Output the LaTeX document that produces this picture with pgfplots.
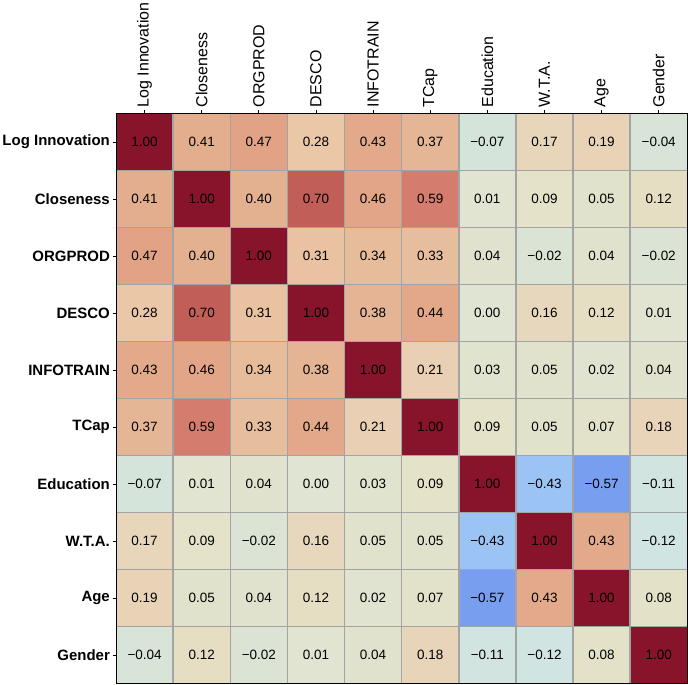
\documentclass[border=0pt]{standalone}
\usepackage{fontspec}
\setmainfont{Liberation Sans}
\usepackage{pgfplots}
\usepackage{pgfplotstable}
\pgfplotsset{compat=1.18}
\pgfplotstableread{
x y c t
0 0 1.00 1.00
1 0 0.41 0.41
2 0 0.47 0.47
3 0 0.28 0.28
4 0 0.43 0.43
5 0 0.37 0.37
6 0 -0.07 −0.07
7 0 0.17 0.17
8 0 0.19 0.19
9 0 -0.04 −0.04
0 1 0.41 0.41
1 1 1.00 1.00
2 1 0.40 0.40
3 1 0.70 0.70
4 1 0.46 0.46
5 1 0.59 0.59
6 1 0.01 0.01
7 1 0.09 0.09
8 1 0.05 0.05
9 1 0.12 0.12
0 2 0.47 0.47
1 2 0.40 0.40
2 2 1.00 1.00
3 2 0.31 0.31
4 2 0.34 0.34
5 2 0.33 0.33
6 2 0.04 0.04
7 2 -0.02 −0.02
8 2 0.04 0.04
9 2 -0.02 −0.02
0 3 0.28 0.28
1 3 0.70 0.70
2 3 0.31 0.31
3 3 1.00 1.00
4 3 0.38 0.38
5 3 0.44 0.44
6 3 0.00 0.00
7 3 0.16 0.16
8 3 0.12 0.12
9 3 0.01 0.01
0 4 0.43 0.43
1 4 0.46 0.46
2 4 0.34 0.34
3 4 0.38 0.38
4 4 1.00 1.00
5 4 0.21 0.21
6 4 0.03 0.03
7 4 0.05 0.05
8 4 0.02 0.02
9 4 0.04 0.04
0 5 0.37 0.37
1 5 0.59 0.59
2 5 0.33 0.33
3 5 0.44 0.44
4 5 0.21 0.21
5 5 1.00 1.00
6 5 0.09 0.09
7 5 0.05 0.05
8 5 0.07 0.07
9 5 0.18 0.18
0 6 -0.07 −0.07
1 6 0.01 0.01
2 6 0.04 0.04
3 6 0.00 0.00
4 6 0.03 0.03
5 6 0.09 0.09
6 6 1.00 1.00
7 6 -0.43 −0.43
8 6 -0.57 −0.57
9 6 -0.11 −0.11
0 7 0.17 0.17
1 7 0.09 0.09
2 7 -0.02 −0.02
3 7 0.16 0.16
4 7 0.05 0.05
5 7 0.05 0.05
6 7 -0.43 −0.43
7 7 1.00 1.00
8 7 0.43 0.43
9 7 -0.12 −0.12
0 8 0.19 0.19
1 8 0.05 0.05
2 8 0.04 0.04
3 8 0.12 0.12
4 8 0.02 0.02
5 8 0.07 0.07
6 8 -0.57 −0.57
7 8 0.43 0.43
8 8 1.00 1.00
9 8 0.08 0.08
0 9 -0.04 −0.04
1 9 0.12 0.12
2 9 -0.02 −0.02
3 9 0.01 0.01
4 9 0.04 0.04
5 9 0.18 0.18
6 9 -0.11 −0.11
7 9 -0.12 −0.12
8 9 0.08 0.08
9 9 1.00 1.00
}\corr
\begin{document}
\begin{tikzpicture}
\begin{axis}[
  scale only axis,
  width=572pt, height=571pt,
  xmin=-0.5, xmax=9.5, ymin=-0.5, ymax=9.5,
  y dir=reverse,
  axis on top,
  colormap={corr}{
    rgb255(0)=(50,70,200)
    rgb255(43)=(120,158,240)
    rgb255(57)=(155,195,243)
    rgb255(88)=(208,228,225)
    rgb255(96)=(215,228,215)
    rgb255(100)=(224,228,210)
    rgb255(105)=(224,226,204)
    rgb255(109)=(228,226,200)
    rgb255(112)=(230,222,195)
    rgb255(118)=(232,212,185)
    rgb255(128)=(234,200,167)
    rgb255(142)=(226,172,140)
    rgb255(146)=(226,165,135)
    rgb255(159)=(212,125,110)
    rgb255(170)=(193,94,88)
    rgb255(200)=(135,20,42)
  },
  point meta min=-1, point meta max=1,
  xtick={0,...,9}, ytick={0,...,9},
  xticklabels={Log Innovation,Closeness,ORGPROD,DESCO,INFOTRAIN,TCap,Education,W.T.A.,Age,Gender},
  yticklabels={Log Innovation,Closeness,ORGPROD,DESCO,INFOTRAIN,TCap,Education,W.T.A.,Age,Gender},
  xtick pos=upper, xticklabel pos=upper,
  ytick pos=left,
  tick align=outside,
  major tick length=3.5pt,
  tick style={black, line width=0.8pt},
  minor tick num=1,
  minor tick length=0pt,
  grid=minor,
  minor grid style={draw=black!36, line width=1.5pt},
  axis line style={black, line width=1pt},
  xticklabel style={rotate=90, anchor=west, font=\fontsize{16}{18}\selectfont, inner xsep=2.5pt},
  yticklabel style={font=\fontsize{15}{17}\selectfont\bfseries, inner xsep=2.5pt},
]
\addplot[matrix plot*, mesh/cols=10, point meta=explicit] table[x=x, y=y, meta=c] {\corr};
\addplot[only marks, mark=none, point meta=explicit symbolic,
  nodes near coords, nodes near coords align={center},
  every node near coord/.style={font=\fontsize{13.5}{15}\selectfont, text=black, anchor=center}]
  table[x=x, y=y, meta=t] {\corr};
\end{axis}
\end{tikzpicture}
\end{document}
